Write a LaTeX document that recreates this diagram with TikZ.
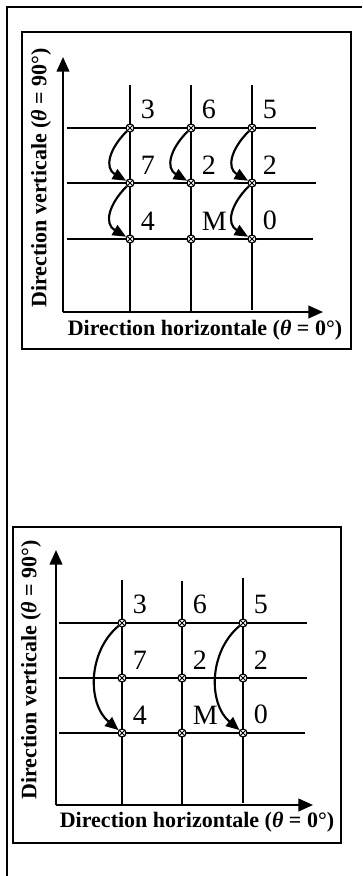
\documentclass[tikz,border=0pt]{standalone}
\usepackage{fontspec}
\setmainfont{Liberation Serif}
\usetikzlibrary{arrows.meta, positioning}

\begin{document}
\begin{tikzpicture}[
  x=0.75pt, y=-0.75pt,
  rule/.style={line width=1.5pt},
  panel/.style={draw, line width=1.4pt},
  axis/.style={line width=1.6pt, -{Triangle[length=11pt, width=9.5pt]}},
  gridline/.style={line width=1pt},
  cell/.style={circle, draw, line width=0.9pt, fill=white, minimum size=6pt, inner sep=0pt,
    path picture={\draw[line width=0.6pt] (path picture bounding box.north west) -- (path picture bounding box.south east)
      (path picture bounding box.south west) -- (path picture bounding box.north east);}},
  num/.style={inner sep=0pt, font=\fontsize{21}{23}\selectfont},
  caption/.style={inner sep=0pt, font=\bfseries\fontsize{16.5}{18}\selectfont},
  jump/.style={line width=1.6pt, -{Triangle[length=10pt, width=8.5pt]}}
]
\useasboundingbox (0,0) rectangle (362,876);

% page rules
\draw[rule] (6.5,876) -- (6.5,6.5) -- (362,6.5);

% upper panel
\draw[panel] (22,32) rectangle (351,349);
\draw[gridline] (67,128) -- (316,128);
\draw[gridline] (67,183) -- (316,183);
\draw[gridline] (67,239) -- (313,239);
\draw[gridline] (130,85) -- (130,312);
\draw[gridline] (191,85) -- (191,312);
\draw[gridline] (252,85) -- (252,310);
\coordinate (uo) at (63,312);
\coordinate (uy) at (63,57);
\coordinate (ux) at (323,312);
\draw[axis] (uo) -- (uy);
\draw[axis] (uo) -- (ux);

\node[cell] (u11) at (130,128) {};
\node[cell] (u12) at (191,128) {};
\node[cell] (u13) at (252,128) {};
\node[cell] (u21) at (130,183) {};
\node[cell] (u22) at (191,183) {};
\node[cell] (u23) at (252,183) {};
\node[cell] (u31) at (130,239) {};
\node[cell] (u32) at (191,239) {};
\node[cell] (u33) at (252,239) {};

\node[num, above right=4pt and 5.5pt of u11] (nu11) {3};
\node[num, above right=4pt and 5.5pt of u12] (nu12) {6};
\node[num, above right=4pt and 5.5pt of u13] (nu13) {5};
\node[num, above right=4pt and 5.5pt of u21] (nu21) {7};
\node[num, above right=4pt and 5.5pt of u22] (nu22) {2};
\node[num, above right=4pt and 5.5pt of u23] (nu23) {2};
\node[num, above right=4pt and 5.5pt of u31] (nu31) {4};
\node[num, above right=4pt and 5.5pt of u32] (nu32) {M};
\node[num, above right=4pt and 5.5pt of u33] (nu33) {0};

\draw[jump] (u11) to[out=225, in=150, looseness=1.3] (u21);
\draw[jump] (u21) to[out=225, in=150, looseness=1.3] (u31);
\draw[jump] (u12) to[out=225, in=150, looseness=1.3] (u22);
\draw[jump] (u13) to[out=225, in=150, looseness=1.3] (u23);
\draw[jump] (u23) to[out=225, in=150, looseness=1.3] (u33);

\node[caption] (uxt) at (205,330) {Direction horizontale (\textit{θ} = 0°)};
\node[caption, rotate=90] (uyt) at (41,178) {Direction verticale (\textit{θ} = 90°)};

% lower panel
\draw[panel] (13,527) rectangle (341,843);
\draw[gridline] (59,623) -- (307,623);
\draw[gridline] (59,678) -- (307,678);
\draw[gridline] (59,733) -- (305,733);
\draw[gridline] (122,580) -- (122,805);
\draw[gridline] (182,581) -- (182,805);
\draw[gridline] (243,578) -- (243,803);
\coordinate (lo) at (56,805);
\coordinate (ly) at (56,550);
\coordinate (lx) at (313,805);
\draw[axis] (lo) -- (ly);
\draw[axis] (lo) -- (lx);

\node[cell] (l11) at (122,623) {};
\node[cell] (l12) at (182,623) {};
\node[cell] (l13) at (243,623) {};
\node[cell] (l21) at (122,678) {};
\node[cell] (l22) at (182,678) {};
\node[cell] (l23) at (243,678) {};
\node[cell] (l31) at (122,733) {};
\node[cell] (l32) at (182,733) {};
\node[cell] (l33) at (243,733) {};

\node[num, above right=4pt and 5.5pt of l11] (nl11) {3};
\node[num, above right=4pt and 5.5pt of l12] (nl12) {6};
\node[num, above right=4pt and 5.5pt of l13] (nl13) {5};
\node[num, above right=4pt and 5.5pt of l21] (nl21) {7};
\node[num, above right=4pt and 5.5pt of l22] (nl22) {2};
\node[num, above right=4pt and 5.5pt of l23] (nl23) {2};
\node[num, above right=4pt and 5.5pt of l31] (nl31) {4};
\node[num, above right=4pt and 5.5pt of l32] (nl32) {M};
\node[num, above right=4pt and 5.5pt of l33] (nl33) {0};

\draw[jump] (l11) to[out=220, in=140] (l31);
\draw[jump] (l13) to[out=220, in=140] (l33);

\node[caption] (lxt) at (197,822) {Direction horizontale (\textit{θ} = 0°)};
\node[caption, rotate=90] (lyt) at (31,670) {Direction verticale (\textit{θ} = 90°)};
\end{tikzpicture}
\end{document}
